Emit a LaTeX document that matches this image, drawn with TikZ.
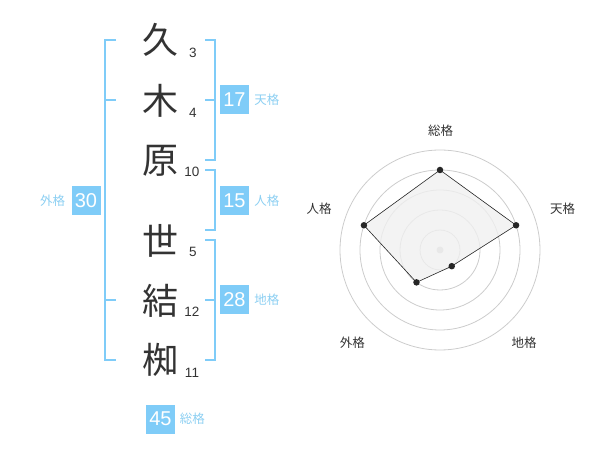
\documentclass[tikz,border=0pt]{standalone}
\usepackage{fontspec}
\setmainfont{Liberation Sans}
\newfontfamily\jpfont{Noto Sans CJK JP}
\usetikzlibrary{positioning}

\definecolor{kakublue}{HTML}{7FCCF8}
\definecolor{kakutext}{HTML}{8CCFF2}
\definecolor{inkgray}{HTML}{333333}
\definecolor{ringgray}{HTML}{CCCCCC}
\definecolor{areagray}{HTML}{F0F0F0}

\tikzset{
  kanji/.style={font=\jpfont\fontsize{36}{36}\selectfont, text=inkgray, inner sep=0pt},
  strokes/.style={font=\fontsize{13.5}{13.5}\selectfont, text=inkgray, inner sep=0pt},
  kakubox/.style={fill=kakublue, text=white, minimum width=29pt, minimum height=29pt, inner sep=0pt, font=\fontsize{20}{20}\selectfont},
  kakulabel/.style={text=kakutext, font=\jpfont\fontsize{12.5}{12.5}\selectfont, inner sep=0pt},
  bracket/.style={draw=kakublue, line width=2pt, line join=miter},
  ring/.style={draw=ringgray, line width=0.8pt},
  vertex/.style={circle, fill=black!85, inner sep=0pt, minimum size=6.5pt},
  axislabel/.style={text=inkgray, font=\jpfont\fontsize{12.5}{12.5}\selectfont, inner sep=0pt}
}

\begin{document}
\begin{tikzpicture}[x=1pt,y=-1pt]
\useasboundingbox (0,0) rectangle (600,470);

% name, one row per character
\node[kanji] (k1) at (160,40) {久};
\node[kanji] (k2) at (160,101) {木};
\node[kanji] (k3) at (160,161) {原};
\node[kanji] (k4) at (160,241) {世};
\node[kanji] (k5) at (160,301) {結};
\node[kanji] (k6) at (160,360) {椥};

\node[strokes] (s1) at (193,53) {3};
\node[strokes] (s2) at (193,113) {4};
\node[strokes] (s3) at (192,172) {10};
\node[strokes] (s4) at (193,252) {5};
\node[strokes] (s5) at (192,312) {12};
\node[strokes] (s6) at (192,373) {11};

% brackets
\draw[bracket] (116,40) -- (105,40) -- (105,360) -- (116,360);
\draw[bracket] (105,100) -- (116,100);
\draw[bracket] (105,300) -- (116,300);
\draw[bracket] (205,40) -- (215,40) -- (215,160) -- (205,160);
\draw[bracket] (205,100) -- (215,100);
\draw[bracket] (205,170) -- (215,170) -- (215,230) -- (205,230);
\draw[bracket] (205,240) -- (215,240) -- (215,360) -- (205,360);
\draw[bracket] (205,300) -- (215,300);

\node[kakubox] (ten) at (234.5,100) {17};
\node[kakubox] (jin) at (234.5,200.5) {15};
\node[kakubox] (chi) at (234.5,300) {28};
\node[kakubox] (gai) at (86,200.5) {30};
\node[kakubox] (sou) at (160.5,419) {45};

\node[kakulabel, right=5pt of ten] {天格};
\node[kakulabel, right=5pt of jin] {人格};
\node[kakulabel, right=5pt of chi] {地格};
\node[kakulabel, left=6pt of gai] {外格};
\node[kakulabel, right=4.5pt of sou] {総格};

% radar chart
\begin{scope}[shift={(440,250)}, y=1pt]
\foreach \r in {20,40,60,80,100}
  \draw[ring] (0,0) circle (\r);
\fill[ringgray] (0,0) circle (3.5);
\coordinate (psou) at (90:80);
\coordinate (pten) at (18:80);
\coordinate (pchi) at (-54:20);
\coordinate (pgai) at (-126:40);
\coordinate (pjin) at (162:80);
\draw[fill=areagray, fill opacity=0.8, draw=black!85, line width=0.6pt]
  (psou) -- (pten) -- (pchi) -- (pgai) -- (pjin) -- cycle;
\foreach \p in {psou,pten,pchi,pgai,pjin}
  \node[vertex] at (\p) {};
\node[axislabel] (lsou) at (0.7,119.5) {総格};
\node[axislabel] (lten) at (122.7,41) {天格};
\node[axislabel] (lchi) at (84,-92.3) {地格};
\node[axislabel] (lgai) at (-87.7,-92.3) {外格};
\node[axislabel] (ljin) at (-121,41) {人格};
\end{scope}
\end{tikzpicture}
\end{document}
